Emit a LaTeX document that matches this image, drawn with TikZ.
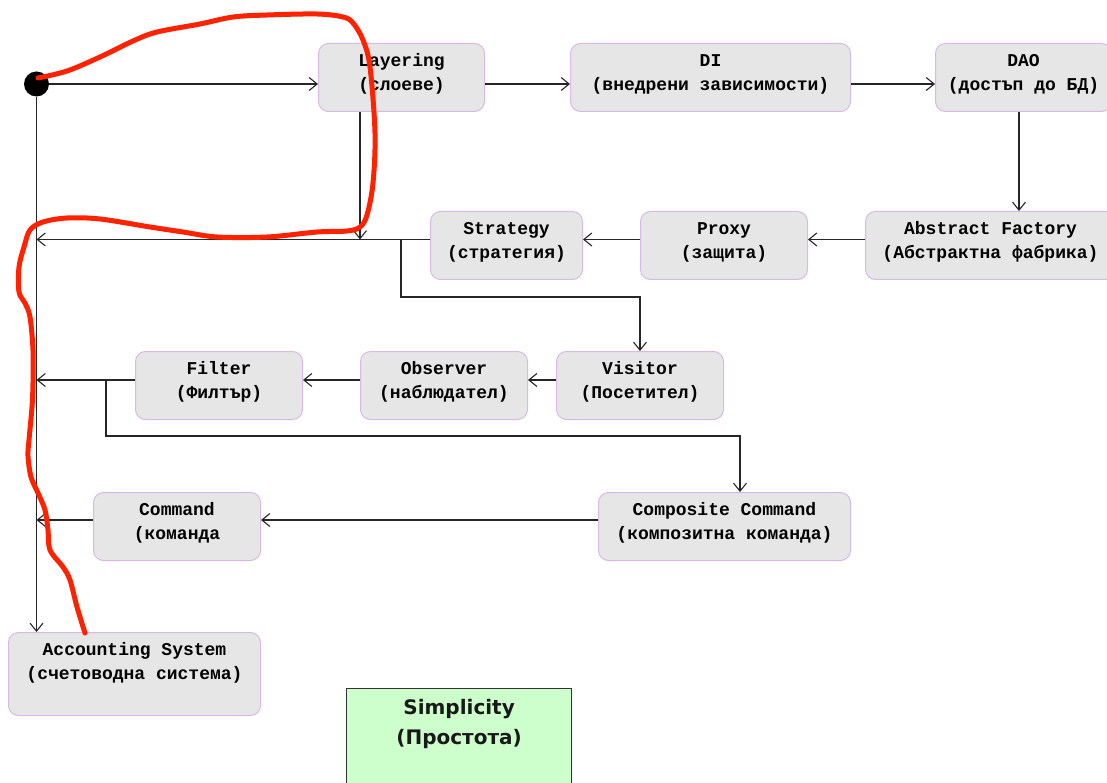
\documentclass[tikz,border=0pt]{standalone}
\usepackage{fontspec}
\setmainfont{Liberation Mono}
\newfontfamily\labelsans{DejaVu Sans}
\usetikzlibrary{arrows.meta}

\definecolor{boxfill}{HTML}{E6E6E6}
\definecolor{boxedge}{HTML}{D9B8E6}
\definecolor{linegray}{HTML}{262626}
\definecolor{goalfill}{HTML}{CCFFCC}
\definecolor{goaledge}{HTML}{333333}
\definecolor{penred}{HTML}{FF2200}

% two centred lines, baseline on the first one
\newcommand{\boxtext}[2]{\begin{tabular}[t]{@{}c@{}}#1\\#2\end{tabular}}

\tikzset{
  stagebox/.style={draw=boxedge, fill=boxfill, rounded corners=10pt, line width=1pt,
    inner xsep=0pt, inner ysep=0pt, anchor=north west, text=black,
    font=\fontsize{18}{24}\selectfont\bfseries,
    text height=23pt, text depth=45pt},
  goalbox/.style={draw=goaledge, fill=goalfill, line width=1.2pt,
    inner xsep=0pt, inner ysep=0pt, anchor=north west, text=black!90,
    font=\labelsans\fontsize{20}{30}\selectfont\bfseries,
    text height=26pt, text depth=110pt, minimum width=225pt},
  startdot/.style={circle, fill=black, inner sep=0pt, minimum size=25pt},
  flow/.style={draw=linegray, line width=1.1pt,
    -{Straight Barb[length=8pt,width=13pt]}},
  plain/.style={draw=linegray, line width=1.1pt},
  penstroke/.style={draw=penred, line width=5pt, line cap=round, line join=round}
}

\begin{document}
\begin{tikzpicture}[x=1pt,y=-1pt]
  \useasboundingbox[fill=white] (0,0) rectangle (1107,783);

  % start point and pattern boxes
  \node[startdot] (start) at (36.5,84) {};
  \node[stagebox, minimum width=166pt] (layering) at (318,43) {\boxtext{Layering}{(слоеве)}};
  \node[stagebox, minimum width=280pt] (di) at (570,43) {\boxtext{DI}{(внедрени зависимости)}};
  \node[stagebox, minimum width=176pt] (dao) at (935,43) {\boxtext{DAO}{(достъп до БД)}};
  \node[stagebox, minimum width=250pt] (abstract) at (865,211) {\boxtext{Abstract Factory}{(Абстрактна фабрика)}};
  \node[stagebox, minimum width=167pt] (proxy) at (640,211) {\boxtext{Proxy}{(защита)}};
  \node[stagebox, minimum width=152pt] (strategy) at (430,211) {\boxtext{Strategy}{(стратегия)}};
  \node[stagebox, minimum width=167pt] (visitor) at (556,351) {\boxtext{Visitor}{(Посетител)}};
  \node[stagebox, minimum width=167pt] (observer) at (360,351) {\boxtext{Observer}{(наблюдател)}};
  \node[stagebox, minimum width=167pt] (filter) at (135,351) {\boxtext{Filter}{(Филтър)}};
  \node[stagebox, minimum width=252pt] (composite) at (598,492) {\boxtext{Composite Command}{(композитна команда)}};
  \node[stagebox, minimum width=167pt] (command) at (93,492) {\boxtext{Command}{(команда}};
  \node[stagebox, minimum width=252pt, text depth=60pt] (accounting) at (8,632) {\boxtext{Accounting System}{(счетоводна система)}};
  \node[goalbox] (simplicity) at (346,688) {\boxtext{Simplicity}{(Простота)}};

  % row levels and drop lines
  \coordinate (r1) at (0,84);
  \coordinate (r2) at (0,239.5);
  \coordinate (r3) at (0,380);
  \coordinate (r4) at (0,520);
  \coordinate (bend2) at (0,297);
  \coordinate (bend3) at (0,436);
  \coordinate (layerdrop) at (360,0);
  \coordinate (daodrop) at (1019,0);
  \coordinate (stratdrop) at (401,0);
  \coordinate (filterdrop) at (106,0);
  \coordinate (compdrop) at (740,0);

  % connectors
  \draw[flow] (start) -- (layering.west |- r1);
  \draw[flow] (layering.east |- r1) -- (di.west |- r1);
  \draw[flow] (di.east |- r1) -- (dao.west |- r1);
  \draw[flow] (daodrop |- dao.south) -- (daodrop |- abstract.north);
  \draw[flow] (abstract.west |- r2) -- (proxy.east |- r2);
  \draw[flow] (proxy.west |- r2) -- (strategy.east |- r2);
  \draw[flow] (strategy.west |- r2) -- (start |- r2);
  \draw[flow] (layerdrop |- layering.south) -- (layerdrop |- r2);
  \draw[flow] (stratdrop |- r2) -- (stratdrop |- bend2) -| (visitor.north);
  \draw[flow] (visitor.west |- r3) -- (observer.east |- r3);
  \draw[flow] (observer.west |- r3) -- (filter.east |- r3);
  \draw[flow] (filter.west |- r3) -- (start |- r3);
  \draw[flow] (filterdrop |- r3) -- (filterdrop |- bend3) -| (compdrop |- composite.north);
  \draw[flow] (composite.west |- r4) -- (command.east |- r4);
  \draw[flow] (command.west |- r4) -- (start |- r4);
  \draw[flow] (start) -- (start |- accounting.north);

  % freehand red marking
  \draw[penstroke] plot[smooth, tension=0.55] coordinates {
    (38,78) (67,71) (100,57) (133,41) (157,32) (200,24) (233,17) (267,15)
    (317,14) (343,17) (353,23) (363,40) (370,67) (375,133) (373,183)
    (367,215) (360,227) (347,231) (317,232) (267,237) (217,237) (183,232)
    (150,227) (100,219) (67,218) (43,222) (30,230) (24,247) (19,267)
    (19,292) (25,303) (30,317) (33,350) (33,383) (32,407) (29,440)
    (28,456) (31,477) (38,493) (45,510) (48,530) (50,550) (63,567)
    (70,580) (77,607) (85,633)};
\end{tikzpicture}
\end{document}
